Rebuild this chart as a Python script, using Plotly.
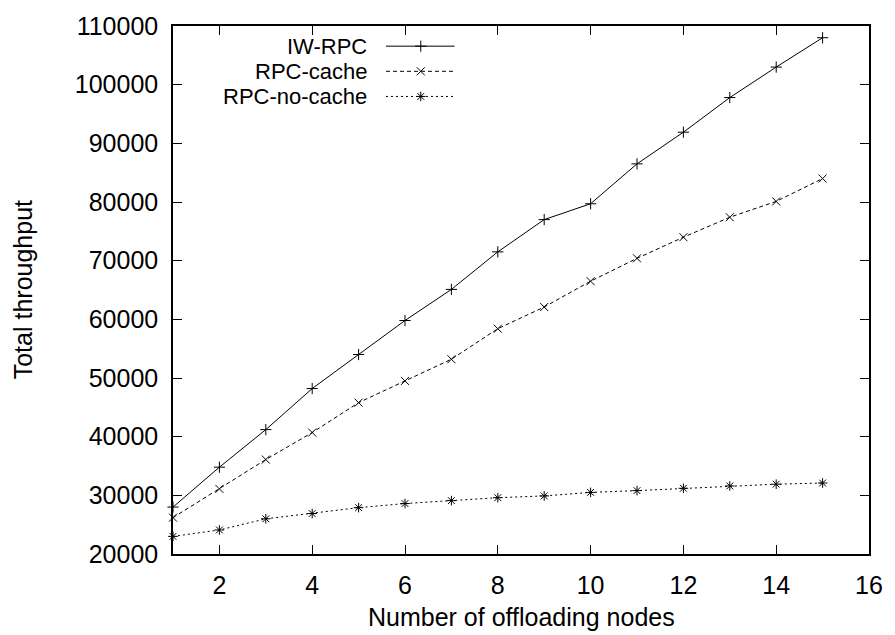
import plotly.graph_objects as go

nodes = list(range(1, 16))
iw_rpc = [28000, 34800, 41200, 48200, 54000, 59800, 65100, 71500, 77000, 79700,
          86500, 91900, 97800, 103000, 108000]
rpc_cache = [26200, 31100, 36100, 40700, 45800, 49500, 53200, 58400, 62100, 66500,
             70400, 74000, 77400, 80100, 84000]
rpc_no_cache = [23000, 24100, 26000, 26900, 27900, 28600, 29100, 29600, 29900, 30500,
                30800, 31200, 31600, 31900, 32100]

series_names = ["IW-RPC", "RPC-cache", "RPC-no-cache"]
series_values = [iw_rpc, rpc_cache, rpc_no_cache]
dashes = ["solid", "4px,3px", "2px,3px"]
symbols = ["cross-thin-open", "x-thin-open", "asterisk-open"]

FONT = "Liberation Sans, Arial, Helvetica, sans-serif"
FS = 25
LEG_FS = 22

fig = go.Figure()
for name, vals, dash, sym in zip(series_names, series_values, dashes, symbols):
    fig.add_trace(go.Scatter(
        x=nodes, y=vals, mode="lines+markers", name=name,
        line=dict(color="black", width=1, dash=dash),
        marker=dict(symbol=sym, size=8, color="black", line=dict(color="black", width=1)),
        showlegend=False, cliponaxis=False,
    ))

# manual gnuplot-style legend (text left, sample right)
leg_y = [0.9618, 0.9142, 0.8666]
for name, dash, sym, yy in zip(series_names, dashes, symbols, leg_y):
    fig.add_trace(go.Scatter(
        x=[0.306, 0.4046], y=[yy, yy], mode="lines", xaxis="x2", yaxis="y2",
        line=dict(color="black", width=1, dash=dash), showlegend=False, hoverinfo="skip",
    ))
    fig.add_trace(go.Scatter(
        x=[0.356], y=[yy], mode="markers", xaxis="x2", yaxis="y2",
        marker=dict(symbol=sym, size=8, color="black", line=dict(color="black", width=1)),
        showlegend=False, hoverinfo="skip",
    ))
    fig.add_annotation(x=0.282, y=yy, xref="paper", yref="paper", text=name,
                       showarrow=False, xanchor="right", yanchor="middle",
                       font=dict(family=FONT, size=LEG_FS, color="black"))

# axis titles
fig.add_annotation(x=0.5, y=-0.1194, xref="paper", yref="paper",
                   text="Number of offloading nodes", showarrow=False,
                   xanchor="center", yanchor="middle",
                   font=dict(family=FONT, size=FS, color="black"))
fig.add_annotation(x=-0.2151, y=0.5, xref="paper", yref="paper",
                   text="Total throughput", showarrow=False, textangle=-90,
                   xanchor="center", yanchor="middle",
                   font=dict(family=FONT, size=FS, color="black"))

axis_common = dict(showline=True, linecolor="black", linewidth=1.5, mirror="allticks",
                   ticks="inside", ticklen=9, tickcolor="black", tickwidth=1,
                   showgrid=False, zeroline=False, ticklabelstandoff=8,
                   tickfont=dict(family=FONT, size=FS, color="black"))

fig.update_layout(
    width=895, height=635,
    margin=dict(l=173, r=20, t=18, b=81),
    paper_bgcolor="white", plot_bgcolor="white",
    xaxis=dict(range=[1, 16], tickvals=[2, 4, 6, 8, 10, 12, 14, 16], **axis_common),
    yaxis=dict(range=[20000, 110000], dtick=10000, tickformat="d", **axis_common),
    xaxis2=dict(overlaying="x", range=[0, 1], visible=False),
    yaxis2=dict(overlaying="y", range=[0, 1], visible=False),
)

fig.write_html("out.html", config={"displayModeBar": False},
               post_script="document.body.style.margin='0px';")
